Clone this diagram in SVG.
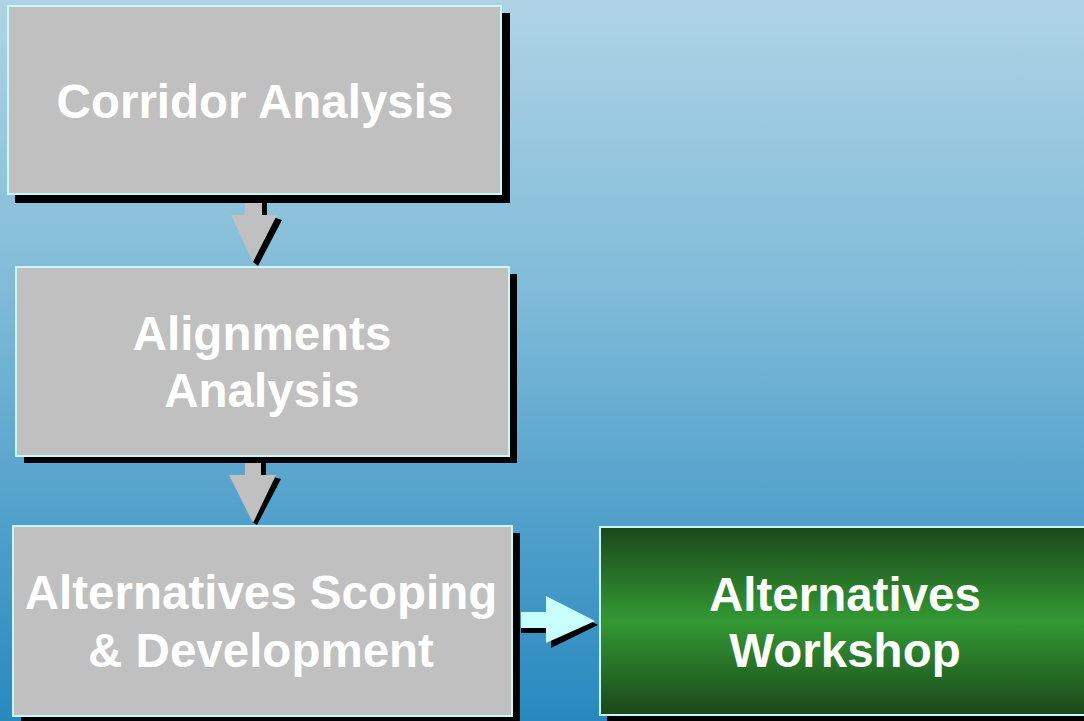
<svg xmlns="http://www.w3.org/2000/svg" width="1084" height="721" viewBox="0 0 1084 721">
  <defs>
    <linearGradient id="bg" x1="0" y1="0" x2="0" y2="1">
      <stop offset="0" stop-color="#afd3e5"/>
      <stop offset="0.4" stop-color="#80bbd8"/>
      <stop offset="1" stop-color="#2889bf"/>
    </linearGradient>
    <linearGradient id="green" x1="0" y1="0" x2="0" y2="1">
      <stop offset="0" stop-color="#1b471b"/>
      <stop offset="0.5" stop-color="#339933"/>
      <stop offset="1" stop-color="#1b471b"/>
    </linearGradient>
    <style>
      .shadow { fill: #000000; }
      .box { fill: #c0c0c0; stroke: #c8f8f8; stroke-width: 2; }
      .gbox { fill: url(#green); stroke: #c8f8f8; stroke-width: 2; }
      .label { font-family: "Liberation Sans", Arial, sans-serif; font-weight: bold; font-size: 47.5px; fill: #ffffff; text-anchor: middle; }
      .arrow { fill: #c0c0c0; }
      .carrow { fill: #c8ffff; }
    </style>
  </defs>
  <rect x="0" y="0" width="1084" height="721" fill="url(#bg)"/>

  <g id="connectors">
    <!-- arrow 1 -->
    <polygon class="shadow" points="250,203 267,203 267,215 282,220 258,266 253,262"/>
    <polygon class="arrow" points="245,203 262,203 262,215 277,215 253,262 231,215 245,215"/>
    <!-- arrow 2 -->
    <polygon class="shadow" points="250,463 266,463 266,475 281,479 257,525 252,522"/>
    <polygon class="arrow" points="245,463 261,463 261,475 276,475 253,523 229,475 245,475"/>
    <!-- arrow 3 -->
    <polygon class="shadow" points="521,617 551,617 551,601 598,625 551,648 551,633 521,633"/>
    <polygon class="carrow" points="521,612 546,612 546,596 595,621 546,643 546,628 521,628"/>
  </g>

  <g id="node-corridor">
    <rect class="shadow" x="15" y="13" width="495" height="190"/>
    <rect class="box" x="8" y="6" width="493" height="188"/>
    <text class="label" x="255" y="118">Corridor Analysis</text>
  </g>

  <g id="node-alignments">
    <rect class="shadow" x="24" y="274" width="493" height="189"/>
    <rect class="box" x="16" y="267" width="493" height="189"/>
    <text class="label" x="262" y="350">Alignments</text>
    <text class="label" x="262" y="407">Analysis</text>
  </g>

  <g id="node-scoping">
    <rect class="shadow" x="21" y="533" width="499" height="195"/>
    <rect class="box" x="13" y="526" width="499" height="190"/>
    <text class="label" x="261" y="609">Alternatives Scoping</text>
    <text class="label" x="261" y="667">&amp; Development</text>
  </g>

  <g id="node-workshop">
    <rect class="shadow" x="607" y="534" width="490" height="195"/>
    <rect class="gbox" x="600" y="527" width="496" height="188"/>
    <text class="label" x="845" y="611">Alternatives</text>
    <text class="label" x="845" y="667">Workshop</text>
  </g>
</svg>
